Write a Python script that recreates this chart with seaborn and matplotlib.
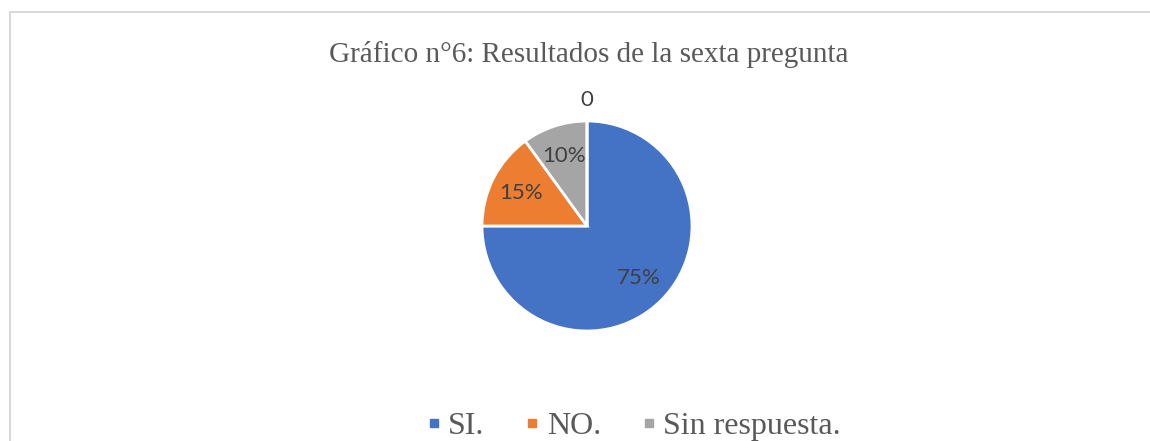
import matplotlib
matplotlib.use("Agg")
import matplotlib.pyplot as plt
from matplotlib.lines import Line2D
import seaborn as sns
import numpy as np

# datos del gráfico
categorias = ["SI.", "NO.", "Sin respuesta.", ""]
valores = [75, 15, 10, 0]
etiquetas = ["75%", "15%", "10%", "0"]
colores = ["#4472C4", "#ED7D31", "#A5A5A5", "#FFC000"]
titulo = "Gráfico n°6: Resultados de la sexta pregunta"

sns.set_theme(style="white")
paleta = sns.color_palette(colores)

W, H = 1150, 441
fig = plt.figure(figsize=(W / 100, H / 100), dpi=100)

# marco del gráfico (solo borde superior e izquierdo visibles)
fig.add_artist(Line2D([10 / W, 1.0], [1 - 12 / H, 1 - 12 / H], transform=fig.transFigure,
                      color="#D9D9D9", linewidth=1.5))
fig.add_artist(Line2D([10 / W, 10 / W], [0.0, 1 - 12 / H], transform=fig.transFigure,
                      color="#D9D9D9", linewidth=1.5))

# pastel
cx, cy, r = 587, 226, 105
ax = fig.add_axes([(cx - r) / W, (H - cy - r) / H, 2 * r / W, 2 * r / H])
wedges, texts = ax.pie(valores, colors=paleta, startangle=90, counterclock=False,
                       labels=etiquetas, labeldistance=0.7,
                       wedgeprops=dict(edgecolor="white", linewidth=2),
                       textprops=dict(color="#404040", fontsize=16, family="Lato"))
for t in texts:
    t.set_ha("center")
    t.set_va("center")
# etiqueta del valor cero, fuera del pastel
ang = np.deg2rad(wedges[3].theta1)
texts[3].set_position((1.2 * np.cos(ang), 1.2 * np.sin(ang)))
ax.set_xlim(-1, 1)
ax.set_ylim(-1, 1)
ax.set_aspect("equal")
ax.axis("off")

fig.text(589 / W, 1 - 55 / H, titulo, ha="center", va="center",
         fontsize=21, family="Liberation Serif", color="#595959")

handles = [Line2D([], [], linestyle="none", marker="s", markersize=6,
                  markerfacecolor=paleta[i], markeredgecolor=paleta[i]) for i in range(3)]
fig.legend(handles, categorias[:3], loc="center", bbox_to_anchor=(634 / W, 1 - 426 / H),
           ncol=3, frameon=False, handlelength=0.4, handletextpad=0.25, columnspacing=1.3,
           prop=dict(family="Liberation Serif", size=23), labelcolor="#595959")

fig.savefig("out.png", dpi=100, facecolor="white")
